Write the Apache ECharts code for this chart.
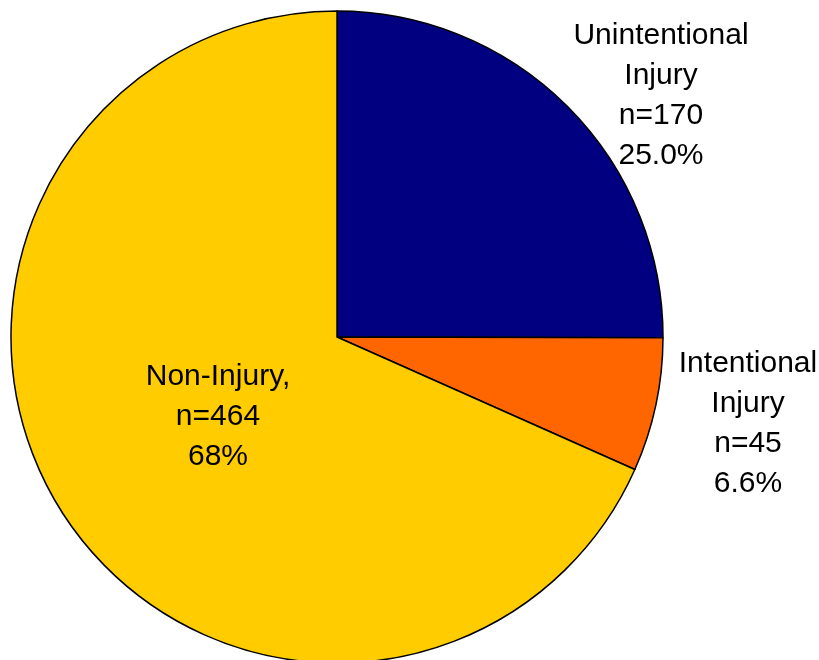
<!DOCTYPE html>
<html>
<head>
<meta charset="utf-8">
<script src="https://cdn.jsdelivr.net/npm/echarts@6/dist/echarts.min.js"></script>
<style>html,body{margin:0;padding:0;background:#fff;}#c{width:819px;height:660px;}</style>
</head>
<body>
<div id="c"></div>
<script>
const categories = ['Unintentional\nInjury', 'Intentional\nInjury', 'Non-Injury,'];
const counts = [170, 45, 464];
const percentLabels = ['25.0%', '6.6%', '68%'];
const colors = ['#000080', '#FF6600', '#FFCC00'];
const labelPos = [[661, 96], [748, 424], [218, 417]];

const chart = echarts.init(document.getElementById('c'), null, {renderer: 'canvas'});
chart.setOption({
  backgroundColor: '#ffffff',
  animation: false,
  series: [{
    type: 'pie',
    center: [337, 337],
    radius: [0, 326],
    startAngle: 90,
    clockwise: true,
    avoidLabelOverlap: false,
    data: categories.map((c, i) => ({
      name: c, value: counts[i],
      itemStyle: {color: colors[i]}
    })),
    itemStyle: {borderColor: '#000', borderWidth: 1.5},
    label: {
      show: true,
      position: 'outside',
      formatter: p => p.name + '\nn=' + p.value + '\n' + percentLabels[p.dataIndex],
      fontFamily: '"Liberation Sans", Arial, sans-serif',
      fontSize: 30,
      lineHeight: 40,
      color: '#000',
      align: 'center'
    },
    labelLine: {show: false},
    labelLayout: p => ({
      x: labelPos[p.dataIndex][0],
      y: labelPos[p.dataIndex][1],
      align: 'center',
      verticalAlign: 'middle'
    }),
    emphasis: {disabled: true}
  }]
});
</script>
</body>
</html>
